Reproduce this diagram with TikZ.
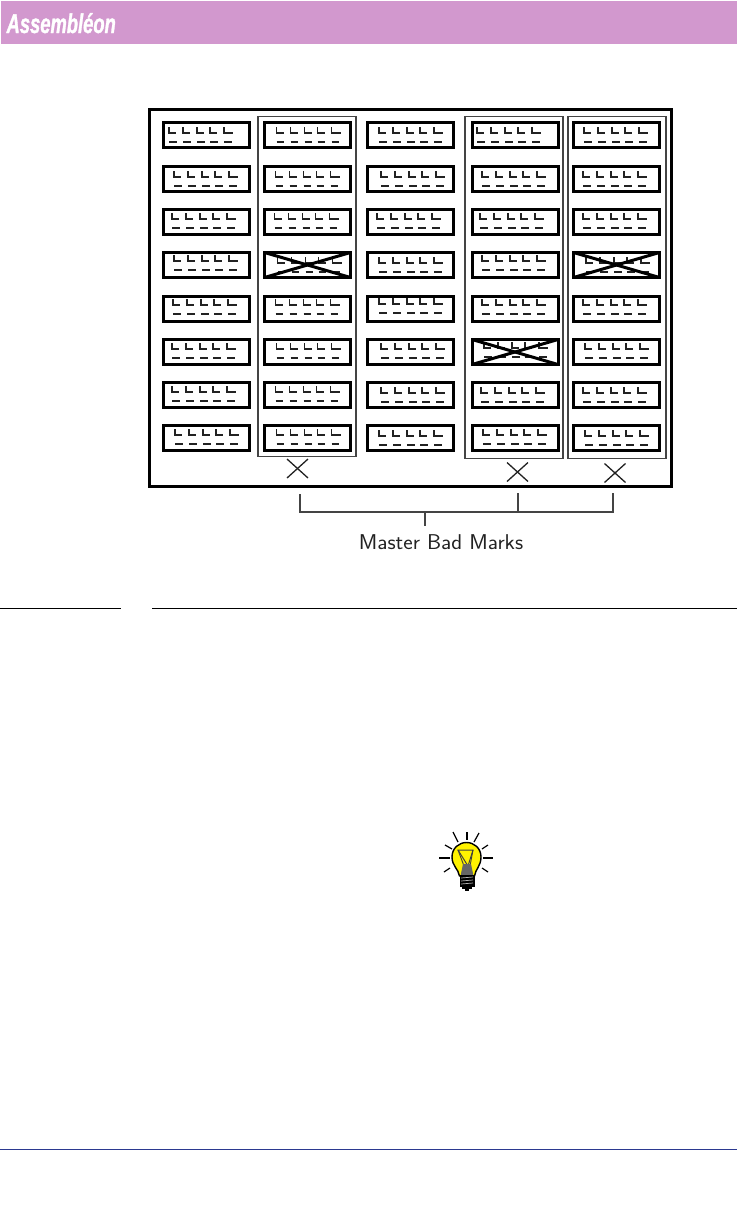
\documentclass[tikz,border=0pt]{standalone}
\usepackage{fontspec}
\setmainfont{Liberation Sans}
\setsansfont{Latin Modern Sans}
\newfontfamily\logofont{Liberation Sans}[UprightFont=* Bold Italic,FakeBold=1.6]
\definecolor{headerpink}{HTML}{D298CE}
\definecolor{ruleblue}{HTML}{2B3990}
\definecolor{ink}{HTML}{222222}
\definecolor{framegrey}{HTML}{444444}
\definecolor{bulbyellow}{HTML}{FFF200}
\definecolor{stemgrey}{HTML}{666666}
\tikzset{
  panelbox/.style={draw=black,line width=3pt,rectangle,inner sep=0pt,outer sep=0pt,minimum width=86pt,minimum height=25pt},
  markline/.style={draw=ink,line width=1.3pt},
  crossline/.style={draw=black,line width=3pt},
  groupframe/.style={draw=framegrey,line width=1.2pt},
  boardframe/.style={draw=black,line width=2.8pt},
  badmark/.style={draw=ink,line width=1.3pt},
  bracketline/.style={draw=framegrey,line width=1.3pt},
  ray/.style={draw=black,line width=1.2pt},
  logotext/.style={text=white,font=\logofont\fontsize{27}{27}\selectfont,inner sep=0pt,anchor=base west,xscale=.68},
  captiontext/.style={text=ink,font=\fontsize{21.4}{22}\sffamily,inner sep=0pt,anchor=base,xscale=1.055}
}
\newcommand{\panelmarks}[3]{%
  \foreach \dx in {0,14,28,41,55}{
    \draw[markline] (#1+\dx,#2) -- (#1+\dx,#2+6) -- (#1+\dx+7,#2+6);
    \draw[markline] (#1+\dx,#3) -- (#1+\dx+7.5,#3);
  }
  \draw[markline] (#1+62,#2+6) -- (#1+64,#2+6);
}
\newcommand{\panelbox}[5]{%
  \node[panelbox] (#1) at (#2,#3) {};
  \panelmarks{#2-43.5+#4}{#3-13+#5}{#3-13+#5+15}
}
\begin{document}
\begin{tikzpicture}[x=1pt,y=-1pt]
\useasboundingbox (0,0) rectangle (737,1205);
% header
\node[fill=headerpink,draw=none,inner sep=0pt,minimum width=736pt,minimum height=43pt] (header) at (369,22.5) {};
\node[logotext] (logo) at (6.5,33) {Assembléon};
% board
\node[boardframe,rectangle,inner sep=0pt,minimum width=522pt,minimum height=377pt] (board) at (410.5,298) {};
\node[groupframe,rectangle,inner sep=0pt,minimum width=98pt,minimum height=340pt] (groupb) at (307,286.5) {};
\node[groupframe,rectangle,inner sep=0pt,minimum width=98pt,minimum height=342pt] (groupd) at (514,287.5) {};
\node[groupframe,rectangle,inner sep=0pt,minimum width=98pt,minimum height=342pt] (groupe) at (617,287.5) {};
% panels: name, centre x, centre y, L offset from left, L offset from top
\def\rowA{135}\def\rowB{179}\def\rowC{221.5}\def\rowD{265}\def\rowE{308.5}\def\rowF{352}\def\rowG{394.5}\def\rowH{438}
\def\colA{206}\def\colB{307.5}\def\colC{410.5}\def\colD{515}\def\colE{616.5}
\panelbox{a1}{\colA}{\rowA}{6.5}{5}
\panelbox{a2}{\colA}{\rowB}{11.5}{5}
\panelbox{a3}{\colA}{\rowC}{9.5}{4.5}
\panelbox{a4}{\colA}{\rowD}{11.5}{3}
\panelbox{a5}{\colA}{\rowE}{10.5}{3.5}
\panelbox{a6}{\colA}{\rowF}{9.5}{4}
\panelbox{a7}{\colA}{\rowG}{9.5}{4.5}
\panelbox{a8}{\colA}{\rowH}{12.5}{4}
\panelbox{b1}{\colB}{\rowA}{12.5}{5}
\panelbox{b2}{\colB}{\rowB}{11.5}{5}
\panelbox{b3}{\colB}{\rowC}{10.5}{4.5}
\panelbox{b4}{\colB}{\rowD}{13.5}{5}
\panelbox{b5}{\colB}{\rowE}{11.5}{3.5}
\panelbox{b6}{\colB}{\rowF}{12.5}{4}
\panelbox{b7}{\colB}{\rowG}{11.5}{4.5}
\panelbox{b8}{\colB}{\rowH}{12.5}{4}
\panelbox{c1}{\colC}{\rowA}{12}{5}
\panelbox{c2}{\colC}{\rowB}{14}{5}
\panelbox{c3}{\colC}{\rowC}{10}{4.5}
\panelbox{c4}{\colC}{\rowD}{12}{5}
\panelbox{c5}{\colC}{\rowE}{12}{2.5}
\panelbox{c6}{\colC}{\rowF}{14}{4}
\panelbox{c7}{\colC}{\rowG}{14}{5.5}
\panelbox{c8}{\colC}{\rowH}{12}{5}
\panelbox{d1}{\colD}{\rowA}{5.5}{5}
\panelbox{d2}{\colD}{\rowB}{10.5}{5}
\panelbox{d3}{\colD}{\rowC}{8.5}{4.5}
\panelbox{d4}{\colD}{\rowD}{10.5}{3}
\panelbox{d5}{\colD}{\rowE}{10.5}{3.5}
\panelbox{d6}{\colD}{\rowF}{12.5}{3}
\panelbox{d7}{\colD}{\rowG}{9.5}{5.5}
\panelbox{d8}{\colD}{\rowH}{11.5}{4}
\panelbox{e1}{\colE}{\rowA}{11}{5}
\panelbox{e2}{\colE}{\rowB}{10}{5}
\panelbox{e3}{\colE}{\rowC}{10}{4.5}
\panelbox{e4}{\colE}{\rowD}{13}{5}
\panelbox{e5}{\colE}{\rowE}{10}{3.5}
\panelbox{e6}{\colE}{\rowF}{12}{4}
\panelbox{e7}{\colE}{\rowG}{10}{5.5}
\panelbox{e8}{\colE}{\rowH}{12}{5}
% crossed panels
\foreach \p in {b4,d6,e4}{
  \draw[crossline] (\p.north west) -- (\p.south east);
  \draw[crossline] (\p.south west) -- (\p.north east);
}
% master bad marks
\coordinate (m1) at (297.5,468.5);
\coordinate (m2) at (517.5,472);
\coordinate (m3) at (615,473);
\foreach \m in {m1,m2,m3}{
  \draw[badmark] ([shift={(-10.5,-9.5)}]\m) -- ([shift={(10.5,9.5)}]\m);
  \draw[badmark] ([shift={(-10.5,9.5)}]\m) -- ([shift={(10.5,-9.5)}]\m);
}
% bracket
\coordinate (bl) at (300,494);
\coordinate (bm) at (518,493);
\coordinate (br) at (613,493);
\coordinate (bstem) at (425,526);
\coordinate (bbar) at (0,512);
\draw[bracketline] (bl) -- (bl |- bbar) -- (br |- bbar) -- (br);
\draw[bracketline] (bm) -- (bm |- bbar);
\draw[bracketline] (bstem |- bbar) -- (bstem);
\node[captiontext] (caption) at (441,549) {Master Bad Marks};
% rules
\coordinate (r1a) at (0,608.5);\coordinate (r1b) at (121,608.5);
\coordinate (r2a) at (152,608.5);\coordinate (r2b) at (737,608.5);
\coordinate (r3a) at (0,1149.5);\coordinate (r3b) at (737,1149.5);
\draw[black,line width=1pt] (r1a) -- (r1b);
\draw[black,line width=1pt] (r2a) -- (r2b);
\draw[ruleblue,line width=1pt] (r3a) -- (r3b);
% bulb
\draw[ray] (467,832) -- (467,840);
\draw[ray] (453,832) -- (458,842);
\draw[ray] (479,833) -- (474,842);
\draw[ray] (445,845) -- (452,849);
\draw[ray] (488,845) -- (482,849);
\draw[ray] (439,858) -- (450,858);
\draw[ray,line width=1.6pt] (483,858) -- (493,858);
\draw[ray] (444,872) -- (450,868);
\draw[ray] (488,872) -- (482,868);
\draw[black,line width=1.4pt,fill=bulbyellow] (459.5,876) .. controls (458.5,869) and (452,866) .. (452,857) .. controls (452,848) and (459,842.5) .. (466.5,842.5) .. controls (474,842.5) and (481,848) .. (481,857) .. controls (481,866) and (475.5,869) .. (474.5,876) -- cycle;
\draw[black!75,line width=1pt] (458,850) -- (473,850) -- (468,866) -- cycle;
\draw[black!75,line width=.9pt] (458,850) -- (464,866);
\draw[black!75,line width=.9pt] (473,850) -- (470,866);
\fill[stemgrey] (463,864) -- (471,864) -- (473.5,876) -- (460.5,876) -- cycle;
\fill[black] (459.5,875) rectangle (474.5,887);
\foreach \y in {878,881,884} \draw[white!70!black,line width=.7pt] (461,\y) -- (473,\y-1);
\fill[black] (462,887) rectangle (472,889);
\fill[black] (464.5,889) rectangle (469,891);
\end{tikzpicture}
\end{document}
